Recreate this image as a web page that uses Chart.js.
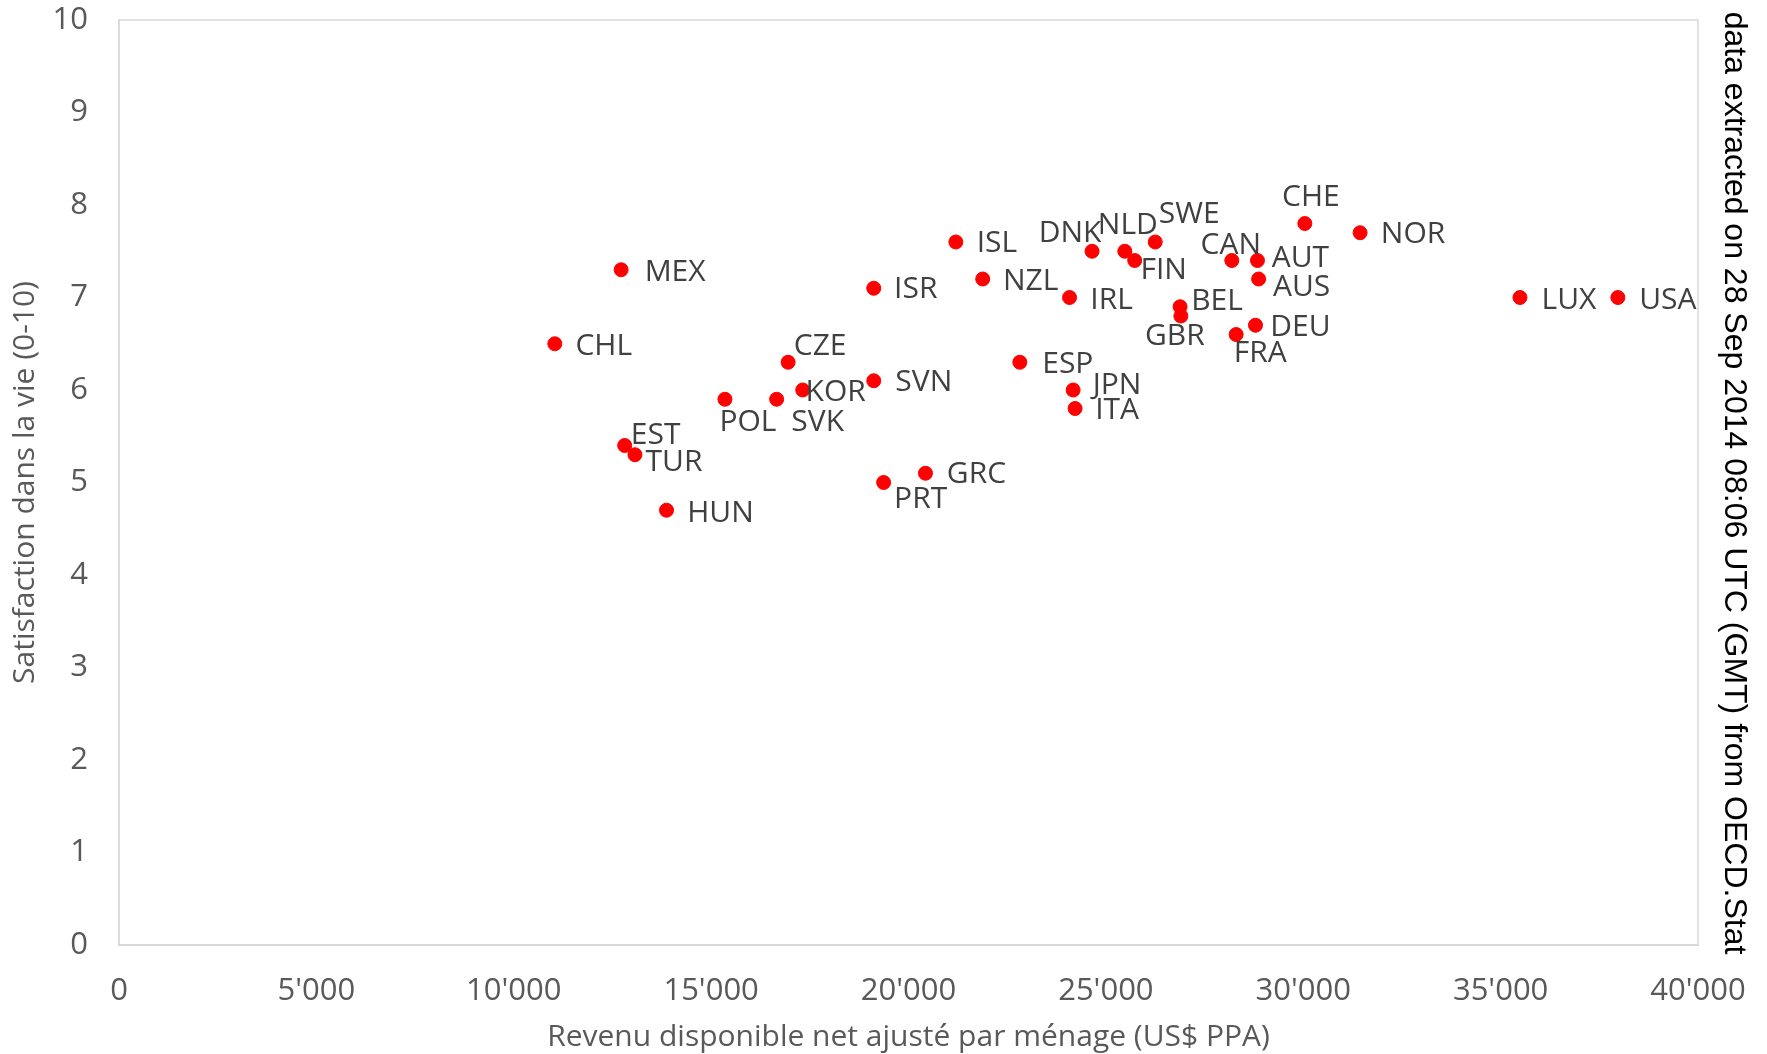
<!DOCTYPE html>
<html>
<head>
<meta charset="utf-8">
<script src="https://cdn.jsdelivr.net/npm/chart.js@4.4.1/dist/chart.umd.min.js"></script>
<style>
  html, body { margin: 0; padding: 0; background: #fff; }
  #wrap { width: 1767px; height: 1054px; position: relative; }
</style>
</head>
<body>
<div id="wrap"><canvas id="c"></canvas></div>
<script>
// donnees
const countries = ["CHL", "MEX", "EST", "TUR", "HUN", "POL", "SVK", "CZE", "KOR", "SVN",
    "ISR", "PRT", "GRC", "ISL", "NZL", "ESP", "IRL", "JPN", "ITA", "DNK",
    "NLD", "FIN", "SWE", "BEL", "GBR", "CAN", "FRA", "DEU", "AUT", "AUS",
    "CHE", "NOR", "LUX", "USA"];
const income = [11040, 12720, 12810, 13070, 13870, 15350, 16660, 16950, 17320, 19120,
    19120, 19370, 20430, 21200, 21880, 22820, 24080, 24170, 24220, 24650,
    25480, 25730, 26250, 26880, 26900, 28190, 28300, 28790, 28840, 28870,
    30040, 31440, 35490, 37970];
const satisfaction = [6.5, 7.3, 5.4, 5.3, 4.7, 5.9, 5.9, 6.3, 6.0, 6.1,
    7.1, 5.0, 5.1, 7.6, 7.2, 6.3, 7.0, 6.0, 5.8, 7.5,
    7.5, 7.4, 7.6, 6.9, 6.8, 7.4, 6.6, 6.7, 7.4, 7.2,
    7.8, 7.7, 7.0, 7.0];
const xTitle = "Revenu disponible net ajusté par ménage (US$ PPA)";
const yTitle = "Satisfaction dans la vie (0-10)";
const sourceNote = "data extracted on 28 Sep 2014 08:06 UTC (GMT) from OECD.Stat";

// decalage des etiquettes (px, centre du texte par rapport au point)
const labelOffset = {
    CHL: [49, 3], MEX: [54, 3], EST: [31, -10], TUR: [39, 8], HUN: [54, 3],
    POL: [23, 23], SVK: [41, 23], CZE: [32, -16], KOR: [33, 2], SVN: [50, 2],
    ISR: [42, 1], PRT: [37, 17], GRC: [51, 1], ISL: [41, 1], NZL: [48, 2],
    ESP: [48, 2], IRL: [42, 3], JPN: [44, -5], ITA: [42, 2], DNK: [-22, -18],
    NLD: [3, -26], FIN: [29, 10], SWE: [34, -28], BEL: [37, -5], GBR: [-6, 20],
    CAN: [-1, -15], FRA: [24, 19], DEU: [45, 2], AUT: [43, -2], AUS: [43, 8],
    CHE: [6, -26], NOR: [53, 2], LUX: [49, 3], USA: [50, 3]
};

const FONT = "'Open Sans', 'Noto Sans', sans-serif";

function fmt(v) {
    return String(v).replace(/\B(?=(\d{3})+(?!\d))/g, "'");
}

const pointLabels = {
    id: "pointLabels",
    afterDatasetsDraw(chart) {
        const ctx = chart.ctx;
        const meta = chart.getDatasetMeta(0);
        ctx.save();
        ctx.font = "30px " + FONT;
        ctx.fillStyle = "#404040";
        ctx.textAlign = "center";
        ctx.textBaseline = "middle";
        meta.data.forEach((pt, i) => {
            const off = labelOffset[countries[i]] || [45, 0];
            ctx.fillText(countries[i], pt.x + off[0], pt.y + off[1]);
        });
        ctx.restore();
    }
};

const frame = {
    id: "frame",
    beforeDatasetsDraw(chart) {
        const a = chart.chartArea;
        const ctx = chart.ctx;
        ctx.save();
        ctx.strokeStyle = "#d9d9d9";
        ctx.lineWidth = 1.5;
        ctx.strokeRect(a.left, a.top, a.right - a.left, a.bottom - a.top);
        ctx.restore();
    },
    afterDraw(chart) {
        const ctx = chart.ctx;
        ctx.save();
        ctx.translate(1734, 483);
        ctx.rotate(Math.PI / 2);
        ctx.font = "32px 'Liberation Sans', Arial, sans-serif";
        ctx.fillStyle = "#000";
        ctx.textAlign = "center";
        ctx.textBaseline = "middle";
        ctx.fillText(sourceNote, 0, 0);
        ctx.restore();
    }
};

new Chart(document.getElementById("c"), {
    type: "scatter",
    data: {
        datasets: [{
            data: income.map((x, i) => ({ x, y: satisfaction[i] })),
            backgroundColor: "#ff0000",
            borderColor: "#ff0000",
            pointRadius: 7,
            pointHoverRadius: 7
        }]
    },
    options: {
        responsive: true,
        maintainAspectRatio: false,
        animation: false,
        layout: { padding: { top: 20, right: 69, left: 0, bottom: 0 } },
        plugins: { legend: { display: false }, tooltip: { enabled: false } },
        scales: {
            x: {
                min: 0, max: 40000,
                grid: { display: false, drawTicks: false },
                border: { display: true, color: "#d9d9d9", width: 2 },
                ticks: {
                    stepSize: 5000, padding: 28, color: "#595959",
                    font: { family: FONT, size: 31 },
                    maxRotation: 0,
                    callback: v => fmt(v)
                },
                title: {
                    display: true, text: xTitle, color: "#595959",
                    font: { family: FONT, size: 30, lineHeight: 1 },
                    padding: { top: 0, bottom: 2 }
                },
                afterFit(s) {
                    s.height = 109;
                    s.paddingLeft = 0;
                    s.paddingRight = 0;
                }
            },
            y: {
                min: 0, max: 10,
                grid: { display: false, drawTicks: false },
                border: { display: true, color: "#d9d9d9", width: 1.5 },
                ticks: {
                    stepSize: 1, padding: 31, color: "#595959",
                    font: { family: FONT, size: 31 }
                },
                title: {
                    display: true, text: yTitle, color: "#595959",
                    font: { family: FONT, size: 30, lineHeight: 1.2 },
                    padding: { top: 7, bottom: 0 }
                },
                afterFit(s) {
                    s.width = 119;
                    s.paddingTop = 0;
                    s.paddingBottom = 0;
                }
            }
        }
    },
    plugins: [frame, pointLabels]
});
</script>
</body>
</html>
